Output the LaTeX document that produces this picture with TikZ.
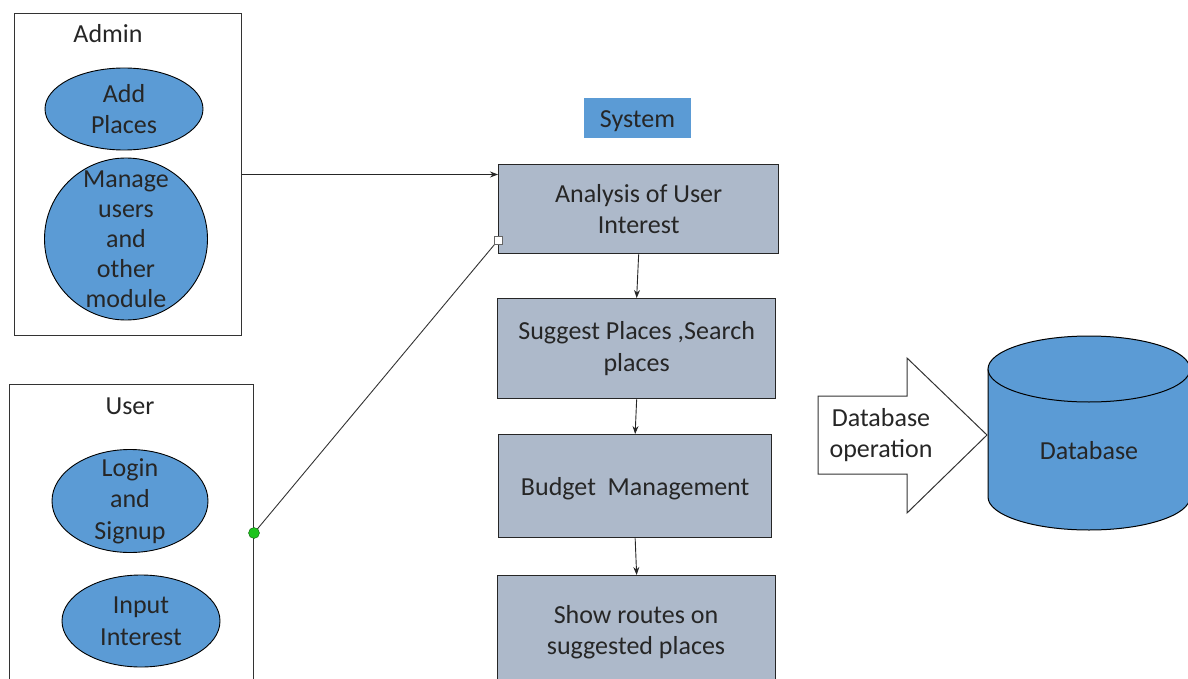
\documentclass[tikz,border=0pt]{standalone}
\usepackage{fontspec}
\setmainfont{Carlito}
\usetikzlibrary{shapes.geometric,arrows.meta}
\definecolor{ucblue}{HTML}{5B9BD5}
\definecolor{procgray}{HTML}{ADB9CA}
\definecolor{inkgray}{HTML}{262626}
\definecolor{dotgreen}{HTML}{1DC41D}
\tikzset{
  every node/.style={font=\fontsize{26}{31.5}\selectfont, text=inkgray},
  actorbox/.style={draw=black!80, line width=1pt, anchor=north west, inner sep=0pt},
  usecase/.style={ellipse, draw=black, line width=0.9pt, fill=ucblue, inner sep=0pt},
  caption/.style={align=center, inner sep=0pt},
  procbox/.style={draw=black!85, line width=1.3pt, fill=procgray, anchor=north west, inner sep=0pt, align=center},
  flow/.style={draw=black!85, line width=0.9pt, -{Stealth[length=8pt,width=6pt]}},
}
\begin{document}
\begin{tikzpicture}[x=1pt,y=-1pt]
\useasboundingbox (0,0) rectangle (1188,679);
\clip (0,0) rectangle (1188,679);

% Admin actor
\node[actorbox, minimum width=227, minimum height=322] (admin) at (14,13) {};
\node[caption] (admintitle) at (108,34) {Admin};
\node[usecase, minimum width=158, minimum height=82] (addplaces) at (124,109) {};
\node[caption] at (addplaces) {Add\\Places};
\node[usecase, minimum width=163, minimum height=162] (manage) at (126,239) {};
\node[caption, font=\fontsize{26}{30}\selectfont] at (manage) {Manage\\users\\and\\other\\module};

% User actor (runs past the lower edge)
\node[actorbox, minimum width=244, minimum height=330] (user) at (9,384) {};
\node[caption] (usertitle) at (130,406) {User};
\node[usecase, minimum width=156, minimum height=103] (login) at (130,501) {};
\node[caption] at (login) {Login\\and\\Signup};
\node[usecase, minimum width=158, minimum height=92] (input) at (141,621) {};
\node[caption] at (input) {Input\\Interest};

% System column
\node[fill=ucblue, minimum width=107, minimum height=40, inner sep=0pt] (system) at (637.5,118) {};
\node[caption] at ([yshift=-3pt]system) {System};
\node[procbox, minimum width=280, minimum height=89] (box1) at (498,164) {Analysis of User\\Interest};
\node[procbox, minimum width=278, minimum height=100] (box2) at (497,298) {Suggest Places ,Search\\places};
\node[procbox, minimum width=273, minimum height=103] (box3) at (498,434) {};
\node[caption] at ([yshift=-3pt]box3) {Budget\ \ Management};
\node[procbox, minimum width=278, minimum height=140, text depth=0pt] (box4) at (497,575) {};
\node[caption] at (636,632) {Show routes on\\suggested places};

\draw[flow] (box1.south) -- (box2.north);
\draw[flow] (box2.south) -- (box3.north);
\draw[flow] (box3.south) -- (box4.north);

% Admin link into the system
\draw[flow] (admin.east) -- (admin.east -| box1.west);

% User link into the system
\coordinate (userport) at (user.east |- 0,533);
\coordinate (sysport) at ([yshift=14pt]box1.south west);
\draw[black!80, line width=0.9pt] (userport) -- (sysport);
\node[draw=black!60, fill=white, minimum size=8pt, inner sep=0pt] at (sysport) {};
\node[circle, draw=black!50!dotgreen, fill=dotgreen, minimum size=11pt, inner sep=0pt] at (userport) {};

% Database operation block arrow
\draw[line width=1pt, draw=black!80, fill=white, line join=miter]
  (818,396) -- (907,396) -- (907,358) -- (987,435) -- (907,513) -- (907,474) -- (818,474) -- cycle;
\node[caption] (dbop) at (881,435) {Database\\operation};

% Database cylinder
\filldraw[fill=ucblue, draw=black, line width=1pt]
  (988,369) -- (988,497) arc[start angle=180, end angle=360, x radius=101pt, y radius=33pt] -- (1190,369) -- cycle;
\filldraw[fill=ucblue, draw=black, line width=1pt] (1089,369) ellipse [x radius=101pt, y radius=33pt];
\node[caption] (db) at (1089,451) {Database};
\end{tikzpicture}
\end{document}
